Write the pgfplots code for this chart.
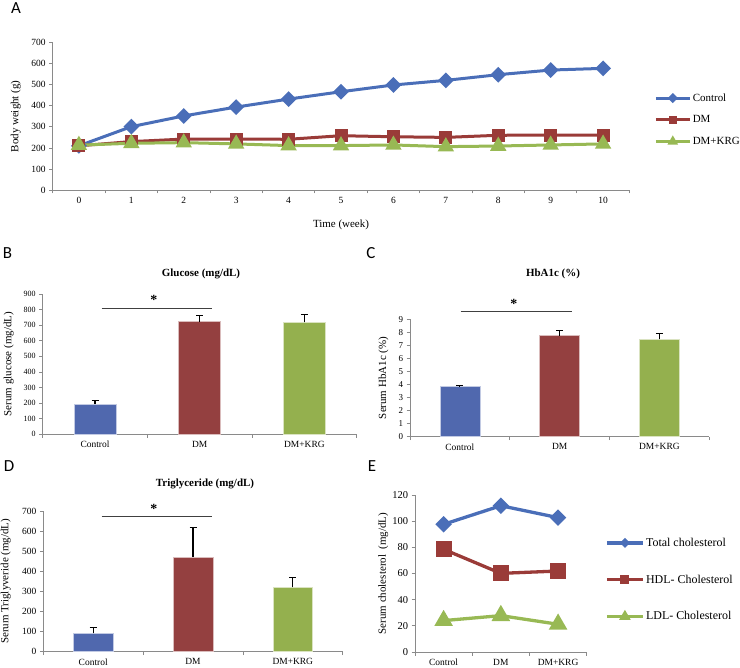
\documentclass[border=0pt]{standalone}
\usepackage{pgfplots}
\pgfplotsset{compat=1.18}
\usepackage{fontspec}
\setmainfont{Liberation Serif}
\newfontfamily\letterfont{Carlito}
\definecolor{lblue}{HTML}{4A6EB8}
\definecolor{lred}{HTML}{9A3B38}
\definecolor{lgreen}{HTML}{98B954}
\definecolor{bblue}{HTML}{5068AE}
\definecolor{bred}{HTML}{944040}
\definecolor{bgreen}{HTML}{94B04E}
\definecolor{axgray}{HTML}{8A8A8A}
\definecolor{siggray}{HTML}{404040}
\pgfplotsset{
  excel/.style={
    scale only axis,
    axis x line*=bottom, axis y line*=left,
    axis line style={draw=axgray, line width=0.8bp},
    tick align=outside,
    major tick length=3.5bp,
    minor tick length=3.5bp,
    every tick/.style={draw=axgray, line width=0.8bp},
    major x tick style={draw=none},
    /pgf/number format/assume math mode=true,
    clip=false,
    ymin=0,
  },
  barcat/.style={
    xmin=-0.5, xmax=2.5,
    xtick={0,1,2}, xticklabels={Control,DM,DM+KRG},
    minor xtick={-0.5,0.5,1.5,2.5},
  },
  mybar/.style={ybar, bar width=0.4, bar shift=0pt, fill=#1, draw=#1!35!white, line width=0.6bp,
    error bars/.cd, y dir=plus, y explicit,
    error bar style={black, line width=1.1bp},
    error mark options={rotate=90, mark size=3.5bp, black, line width=1.1bp}},
}
\begin{document}
\begin{tikzpicture}
\useasboundingbox (0,0) rectangle (740bp,668bp);
% ---------------- A
\begin{axis}[excel, at={(52.7bp,478bp)}, width=576.6bp, height=147.3bp,
  xmin=-0.5, xmax=10.5, ymax=700,
  xtick={0,...,10}, minor xtick={-0.5,0.5,...,10.5},
  ytick={0,100,...,700},
  tick label style={font=\fontsize{9.5}{11}\selectfont},
  xlabel={Time (week)}, ylabel={Body weight (g)},
  label style={font=\fontsize{11}{13}\selectfont},
  ylabel style={at={(axis description cs:-0.064,0.5)}, anchor=center},
  xlabel style={at={(axis description cs:0.5,-0.238)}, anchor=center},
  legend style={at={(1.043,0.67)}, anchor=north west, draw=none, fill=none,
    font=\fontsize{11}{13}\selectfont, row sep=9bp, inner sep=0pt, cells={anchor=west},
    nodes={inner xsep=1.5bp}},
  legend image code/.code={\draw[mark repeat=2,mark phase=2,/tikz/every mark/.append style={scale=0.5}] plot coordinates {(0bp,0bp)(17bp,0bp)(34bp,0bp)};},
]
\addplot[lblue, line width=3bp, mark=square*, mark size=4.1bp, mark options={rotate=45}] coordinates {
(0,210)(1,301)(2,352)(3,394)(4,432)(5,467)(6,499)(7,521)(8,548)(9,570)(10,578)};
\addlegendentry{Control}
\addplot[lred, line width=3bp, mark=square*, mark size=5bp] coordinates {
(0,210)(1,230)(2,242)(3,242)(4,241)(5,258)(6,253)(7,250)(8,260)(9,261)(10,261)};
\addlegendentry{DM}
\addplot[lgreen, line width=3bp, mark=triangle*, mark size=6.5bp] coordinates {
(0,213)(1,222)(2,225)(3,219)(4,211)(5,211)(6,214)(7,206)(8,209)(9,214)(10,219)};
\addlegendentry{DM+KRG}
\end{axis}
% ---------------- B
\begin{axis}[excel, barcat, at={(42.7bp,233.7bp)}, width=314bp, height=140.3bp,
  ymax=900, ytick={0,100,...,900},
  tick label style={font=\fontsize{8}{10}\selectfont},
  xticklabel style={font=\fontsize{9.5}{11}\selectfont},
  ylabel={Serum glucose (mg/dL)},
  ylabel style={font=\fontsize{11}{13}\selectfont, at={(axis description cs:-0.108,0.5)}, anchor=center},
]
\addplot[mybar=bblue] coordinates {(0,192) +- (0,23)};
\addplot[mybar=bred] coordinates {(1,722) +- (0,41)};
\addplot[mybar=bgreen] coordinates {(2,718) +- (0,50)};
\draw[siggray, line width=1.2bp] (axis cs:0.064,808) -- (axis cs:1.12,808);
\node[font=\fontsize{14}{14}\selectfont\bfseries] at (axis cs:0.563,862) {*};
\end{axis}
% ---------------- C
\begin{axis}[excel, barcat, at={(410bp,231.3bp)}, width=299.3bp, height=117.4bp,
  ymax=9, ytick={0,1,...,9},
  tick label style={font=\fontsize{9}{10}\selectfont},
  xticklabel style={font=\fontsize{9.5}{11}\selectfont},
  ylabel={Serum HbA1c (\%)},
  ylabel style={font=\fontsize{11}{13}\selectfont, at={(axis description cs:-0.089,0.5)}, anchor=center},
]
\addplot[mybar=bblue] coordinates {(0,3.83) +- (0,0.08)};
\addplot[mybar=bred] coordinates {(1,7.75) +- (0,0.38)};
\addplot[mybar=bgreen] coordinates {(2,7.47) +- (0,0.46)};
\draw[siggray, line width=1.2bp] (axis cs:0.008,9.59) -- (axis cs:1.12,9.59);
\node[font=\fontsize{14}{14}\selectfont\bfseries] at (axis cs:0.542,10.15) {*};
\end{axis}
% ---------------- D
\begin{axis}[excel, barcat, at={(43.3bp,16.3bp)}, width=299.4bp, height=140.7bp,
  ymax=700, ytick={0,100,...,700},
  tick label style={font=\fontsize{9.5}{11}\selectfont},
  ylabel={Serum Triglyveride (mg/dL)},
  ylabel style={font=\fontsize{11}{13}\selectfont, at={(axis description cs:-0.125,0.5)}, anchor=center},
]
\addplot[mybar=bblue] coordinates {(0,91) +- (0,30)};
\addplot[mybar=bred] coordinates {(1,471) +- (0,146)};
\addplot[mybar=bgreen] coordinates {(2,320) +- (0,47)};
\draw[siggray, line width=1.2bp] (axis cs:0.085,672) -- (axis cs:1.193,672);
\node[font=\fontsize{14}{14}\selectfont\bfseries] at (axis cs:0.609,708) {*};
\end{axis}
% ---------------- E
\begin{axis}[excel, barcat, at={(415bp,16bp)}, width=171.7bp, height=157bp,
  ymax=120, ytick={0,20,...,120},
  tick label style={font=\fontsize{10.5}{12}\selectfont},
  xticklabel style={font=\fontsize{9.5}{11}\selectfont},
  ylabel={Serum cholesterol\ \ (mg/dL)},
  ylabel style={font=\fontsize{11}{13}\selectfont, at={(axis description cs:-0.185,0.5)}, anchor=center},
  legend style={at={(1.107,0.74)}, anchor=north west, draw=none, fill=none,
    font=\fontsize{12}{14}\selectfont, row sep=23bp, inner sep=0pt, cells={anchor=west},
    nodes={inner xsep=1.5bp}},
  legend image code/.code={\draw[mark repeat=2,mark phase=2,/tikz/every mark/.append style={scale=0.45}] plot coordinates {(0bp,0bp)(18bp,0bp)(36bp,0bp)};},
]
\addplot[lblue, line width=3.3bp, mark=square*, mark size=4.2bp, mark options={rotate=45}] coordinates {
(0,97.6)(1,111.8)(2,102.7)};
\addlegendentry{Total cholesterol}
\addplot[lred, line width=3.3bp, mark=square*, mark size=6.3bp] coordinates {
(0,78.5)(1,60.1)(2,61.9)};
\addlegendentry{HDL- Cholesterol}
\addplot[lgreen, line width=3.3bp, mark=triangle*, mark size=7.5bp] coordinates {
(0,24)(1,27.8)(2,21.2)};
\addlegendentry{LDL- Cholesterol}
\end{axis}
% ---------------- titles and panel letters
\node[font=\fontsize{11}{13}\selectfont\bfseries] at (201bp,394bp) {Glucose (mg/dL)};
\node[font=\fontsize{11}{13}\selectfont\bfseries] at (553bp,394bp) {HbA1c (\%)};
\node[font=\fontsize{11}{13}\selectfont\bfseries] at (205bp,183.7bp) {Triglyceride (mg/dL)};
\node[font=\letterfont\fontsize{17}{17}\selectfont] at (16bp,660bp) {A};
\node[font=\letterfont\fontsize{17}{17}\selectfont] at (7.5bp,415bp) {B};
\node[font=\letterfont\fontsize{17}{17}\selectfont] at (371bp,415bp) {C};
\node[font=\letterfont\fontsize{17}{17}\selectfont] at (9bp,202bp) {D};
\node[font=\letterfont\fontsize{17}{17}\selectfont] at (372bp,202bp) {E};
\end{tikzpicture}
\end{document}
